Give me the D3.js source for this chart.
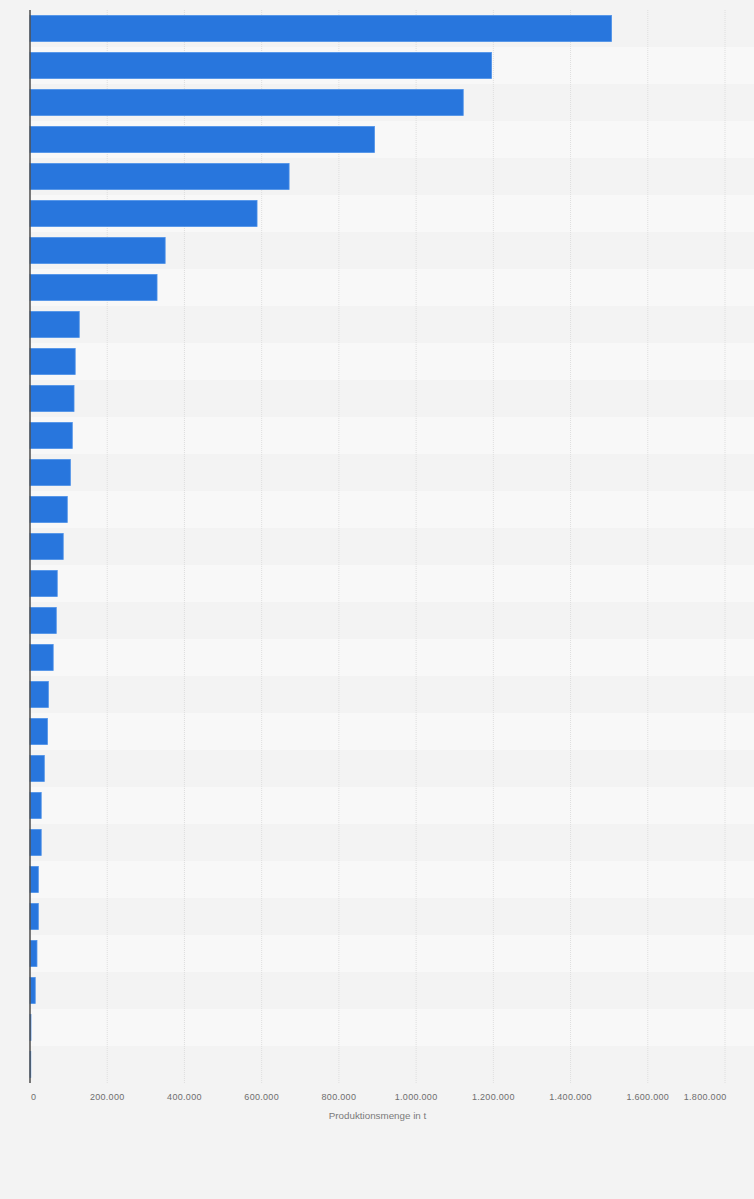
<!DOCTYPE html>
<html>
<head>
<meta charset="utf-8">
<script src="https://cdn.jsdelivr.net/npm/d3@7"></script>
<style>
  html, body { margin: 0; padding: 0; background: #f3f3f3; }
  svg { display: block; }
</style>
</head>
<body>
<svg id="chart"></svg>
<script>
// categories are not labelled in the reference, kept as positions
const categories = [
  "Rang 1", "Rang 2", "Rang 3", "Rang 4", "Rang 5", "Rang 6", "Rang 7", "Rang 8",
  "Rang 9", "Rang 10", "Rang 11", "Rang 12", "Rang 13", "Rang 14", "Rang 15",
  "Rang 16", "Rang 17", "Rang 18", "Rang 19", "Rang 20", "Rang 21", "Rang 22",
  "Rang 23", "Rang 24", "Rang 25", "Rang 26", "Rang 27", "Rang 28", "Rang 29"
];

// Produktionsmenge in t
const values = [
  1506000, 1195000, 1122000, 892000, 671000, 588000, 350000, 329000,
  127500, 117000, 114000, 109500, 104500, 96500, 86000,
  70500, 68000, 60000, 47500, 45000, 37000, 29000,
  29000, 21500, 21500, 18000, 13500, 2500, 2000
];

const xTicks = [0, 200000, 400000, 600000, 800000, 1000000, 1200000, 1400000, 1600000, 1800000];
const xTitle = "Produktionsmenge in t";

const width = 754;
const height = 1199;
const margin = { top: 10, left: 30, plotRight: 725, bottom: 1083 };

const svg = d3.select("#chart")
  .attr("width", width)
  .attr("height", height);

const x = d3.scaleLinear()
  .domain([0, 1800000])
  .range([margin.left, margin.plotRight]);

const y = d3.scaleBand()
  .domain(categories)
  .range([margin.top, margin.bottom])
  .paddingInner(0.3)
  .paddingOuter(0.15);

const step = y.step();

// alternating row bands
svg.append("g")
  .selectAll("rect")
  .data(categories)
  .join("rect")
  .attr("x", margin.left)
  .attr("width", width - margin.left)
  .attr("y", d => y(d) - step * y.paddingInner() / 2)
  .attr("height", step)
  .attr("fill", (d, i) => (i % 2 ? "#f8f8f8" : "#f3f3f3"));

// vertical grid, faint dotted
svg.append("g")
  .selectAll("line")
  .data(xTicks.slice(1))
  .join("line")
  .attr("x1", d => x(d))
  .attr("x2", d => x(d))
  .attr("y1", margin.top)
  .attr("y2", margin.bottom)
  .attr("stroke", "#dedede")
  .attr("stroke-width", 1)
  .attr("stroke-dasharray", "1,1");

// bars
svg.append("g")
  .selectAll("rect")
  .data(values)
  .join("rect")
  .attr("x", x(0))
  .attr("y", (d, i) => y(categories[i]))
  .attr("width", d => x(d) - x(0))
  .attr("height", y.bandwidth())
  .attr("fill", "#2876dd")
  .attr("stroke", "#4a8fe8")
  .attr("stroke-width", 0.8);

// x axis labels
const fmt = d3.formatLocale({ decimal: ",", thousands: ".", grouping: [3], currency: ["", "€"] }).format(",d");

svg.append("g")
  .selectAll("text")
  .data(xTicks)
  .join("text")
  .attr("x", (d, i) => i === 0 ? x(d) + 1 : (i === xTicks.length - 1 ? x(d) + 1.5 : x(d)))
  .attr("y", 1100)
  .attr("text-anchor", (d, i) => i === 0 ? "start" : (i === xTicks.length - 1 ? "end" : "middle"))
  .style("font", "9px 'Liberation Sans', Arial, sans-serif")
  .style("letter-spacing", "0.3px")
  .attr("fill", "#6e6e6e")
  .text(d => fmt(d));

svg.append("text")
  .attr("x", (margin.left + margin.plotRight) / 2)
  .attr("y", 1118.5)
  .attr("text-anchor", "middle")
  .style("font", "9.8px 'Liberation Sans', Arial, sans-serif")
  .attr("fill", "#7a7a7a")
  .text(xTitle);

// y axis line
svg.append("line")
  .attr("x1", margin.left)
  .attr("x2", margin.left)
  .attr("y1", margin.top)
  .attr("y2", margin.bottom)
  .attr("stroke", "#4d4d4d")
  .attr("stroke-width", 1.5);
</script>
</body>
</html>
